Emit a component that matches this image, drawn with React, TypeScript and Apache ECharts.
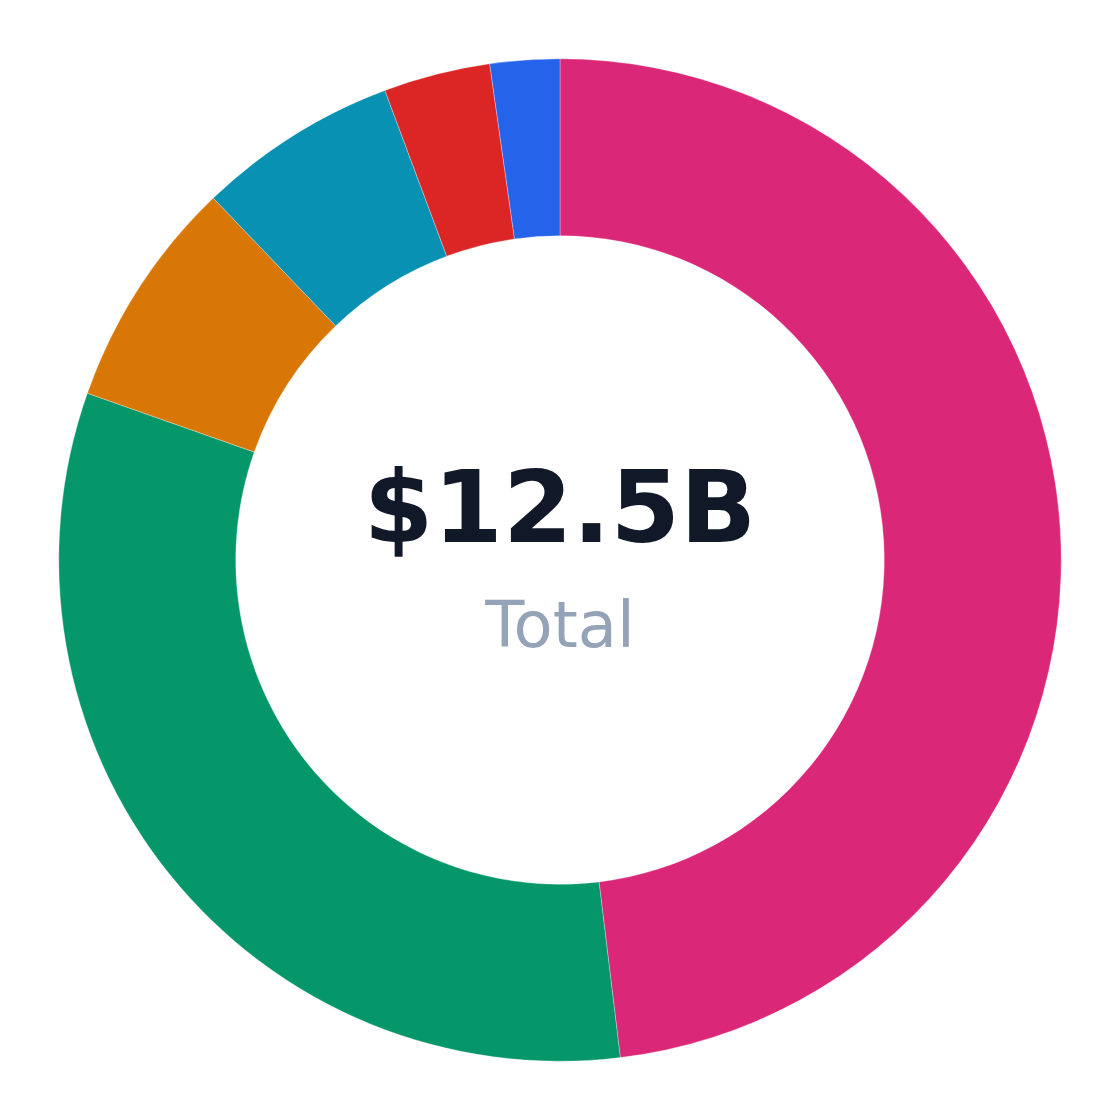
import React, { useEffect, useRef } from 'react';
import * as echarts from 'echarts';

// segment values in $B, clockwise from 12 o'clock
const segmentNames = ['Segment A', 'Segment B', 'Segment C', 'Segment D', 'Segment E', 'Segment F'];
const segmentValues = [6.01, 4.04, 0.93, 0.81, 0.43, 0.28];
const segmentColors = ['#db2777', '#059669', '#d97706', '#0891b2', '#dc2626', '#2563eb'];

const totalLabel = '$12.5B';
const subLabel = 'Total';

const App: React.FC = () => {
  const chartRef = useRef<HTMLDivElement>(null);

  useEffect(() => {
    if (!chartRef.current) return;
    const chart = echarts.init(chartRef.current, undefined, { renderer: 'svg' });

    const option = {
      animation: false,
      backgroundColor: '#fff',
      textStyle: { fontFamily: 'DejaVu Sans' },
      graphic: [
        {
          type: 'text',
          x: 560,
          y: 507,
          style: {
            text: totalLabel,
            fill: '#111827',
            fontSize: 100,
            fontWeight: 'bold',
            fontFamily: 'DejaVu Sans',
            textAlign: 'center',
            textVerticalAlign: 'middle'
          }
        },
        {
          type: 'text',
          x: 560,
          y: 625,
          style: {
            text: subLabel,
            fill: '#94a3b8',
            fontSize: 64,
            fontFamily: 'DejaVu Sans',
            textAlign: 'center',
            textVerticalAlign: 'middle'
          }
        }
      ],
      series: [
        {
          type: 'pie',
          center: ['50%', '50%'],
          radius: ['57.9%', '89.5%'],
          startAngle: 90,
          clockwise: true,
          label: { show: false },
          labelLine: { show: false },
          emphasis: { disabled: true },
          itemStyle: { borderColor: 'rgba(255,255,255,0.6)', borderWidth: 0.5 },
          data: segmentNames.map((name, i) => ({
            name,
            value: segmentValues[i],
            itemStyle: { color: segmentColors[i] }
          }))
        }
      ]
    };

    chart.setOption(option);

    return () => {
      chart.dispose();
    };
  }, []);

  return (
    <div
      ref={chartRef}
      style={{ position: 'absolute', left: 0, top: 0, width: '1120px', height: '1120px' }}
    />
  );
};

export default App;
